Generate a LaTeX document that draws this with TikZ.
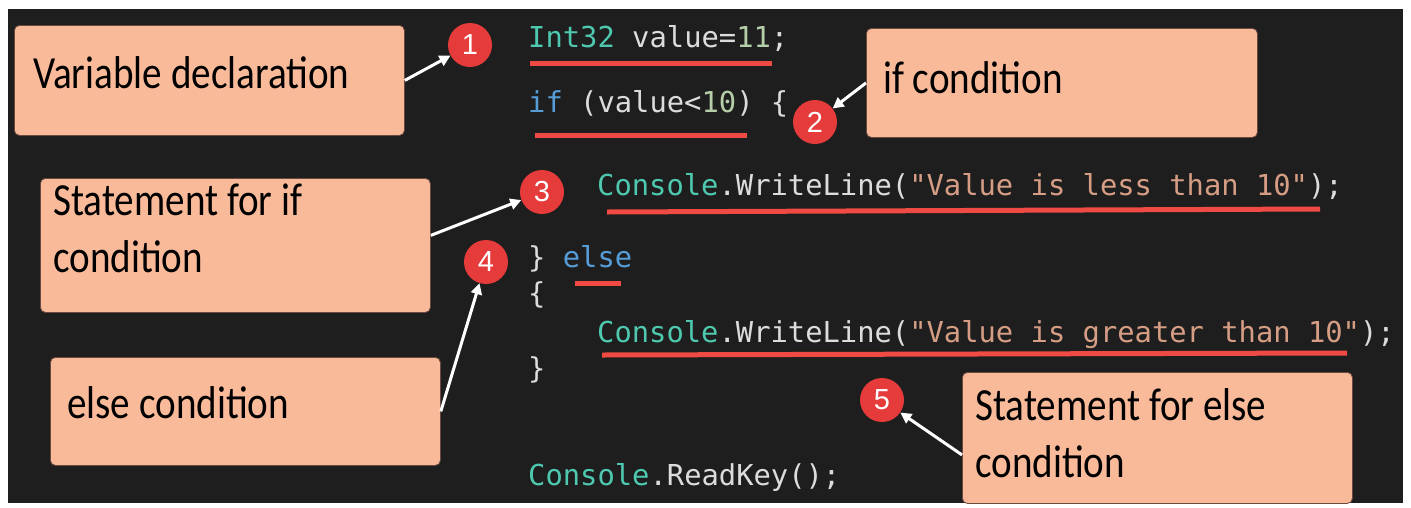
\documentclass[tikz,border=0pt]{standalone}
\usepackage{fontspec}
\usetikzlibrary{arrows.meta}
\setmainfont{Liberation Sans}
\newfontfamily\codefont{DejaVu Sans Mono}
\newfontfamily\handfont[FakeStretch=0.85]{Carlito}
\definecolor{bg}{HTML}{1E1E1E}
\definecolor{boxfill}{HTML}{F9BA9A}
\definecolor{boxedge}{HTML}{6A4A3E}
\definecolor{numred}{HTML}{E63B3B}
\definecolor{ulred}{HTML}{F04A45}
\definecolor{cteal}{HTML}{4EC9B0}
\definecolor{cgray}{HTML}{DCDCDC}
\definecolor{cblue}{HTML}{569CD6}
\definecolor{cstr}{HTML}{D69D85}
\definecolor{cnum}{HTML}{B5CEA8}
\begin{document}
\begin{tikzpicture}[x=1pt,y=-1pt,
  box/.style={fill=boxfill, draw=boxedge, line width=0.8pt, rounded corners=5pt, inner sep=0pt, anchor=north west},
  note/.style={font=\handfont\fontsize{46}{57}\selectfont, text=black, anchor=base west, inner sep=0pt},
  code/.style={font=\codefont\fontsize{28.8}{34}\selectfont, text=cgray, anchor=base west, inner sep=0pt},
  num/.style={circle, fill=numred, minimum size=44pt, inner sep=0pt, text=white, font=\fontsize{29}{29}\selectfont},
  uline/.style={draw=ulred, line width=5pt},
  arr/.style={draw=white, line width=3pt, -{Triangle[length=11pt,width=11pt]}}]
\useasboundingbox (0,0) rectangle (1411,507);
\fill[white] (0,0) rectangle (1411,507);
\fill[bg] (8,9) rectangle (1403,503);

% code
\node[code] (l1) at (528,47) {\textcolor{cteal}{Int32} value=\textcolor{cnum}{11};};
\node[code] (l2) at (528,112) {\textcolor{cblue}{if} (value<\textcolor{cnum}{10}) \{};
\node[code] (l3) at (597,195) {\textcolor{cteal}{Console}.WriteLine(\textcolor{cstr}{"Value is less than 10"});};
\node[code] (l4) at (528,267) {\} \textcolor{cblue}{else}};
\node[code] (l5) at (528,303) {\{};
\node[code] (l6) at (597,342) {\textcolor{cteal}{Console}.WriteLine(\textcolor{cstr}{"Value is greater than 10"});};
\node[code] (l7) at (528,378) {\}};
\node[code] (l8) at (528,485) {\textcolor{cteal}{Console}.ReadKey();};

% underlines
\draw[uline] (530,63) -- (772,63);
\draw[uline] (535,135) -- (747,135);
\draw[uline] (607,212) -- (1320,209);
\draw[uline] (575,283) -- (621,283);
\draw[uline] (602,355) -- (1347,353);

% boxes
\node[box, minimum width=390pt, minimum height=110pt] (b1) at (14,25) {};
\node[box, minimum width=391pt, minimum height=109pt] (b2) at (866,28) {};
\node[box, minimum width=390pt, minimum height=134pt] (b3) at (40,178) {};
\node[box, minimum width=390pt, minimum height=108pt] (b4) at (50,357) {};
\node[box, minimum width=390pt, minimum height=131pt] (b5) at (962,372) {};

\node[note] (t1) at (33,88) {Variable declaration};
\node[note] (t2) at (883,93) {if condition};
\node[note] (t3a) at (53,215) {Statement for if};
\node[note] (t3b) at (53,272) {condition};
\node[note] (t4) at (67,418) {else condition};
\node[note] (t5a) at (975,420) {Statement for else};
\node[note] (t5b) at (975,477) {condition};

% number badges
\node[num] (c1) at (470,45) {1};
\node[num] (c2) at (815,122) {2};
\node[num] (c3) at (542,192) {3};
\node[num] (c4) at (486,262) {4};
\node[num] (c5) at (882,400) {5};

% arrows
\draw[arr] (b1.east) -- (c1);
\draw[arr] (b2.west) -- (c2);
\draw[arr] ([yshift=10pt]b3.east) -- (c3);
\draw[arr] (b4.east) -- (c4);
\draw[arr] ([yshift=-17pt]b5.west) -- (c5);
\end{tikzpicture}
\end{document}
